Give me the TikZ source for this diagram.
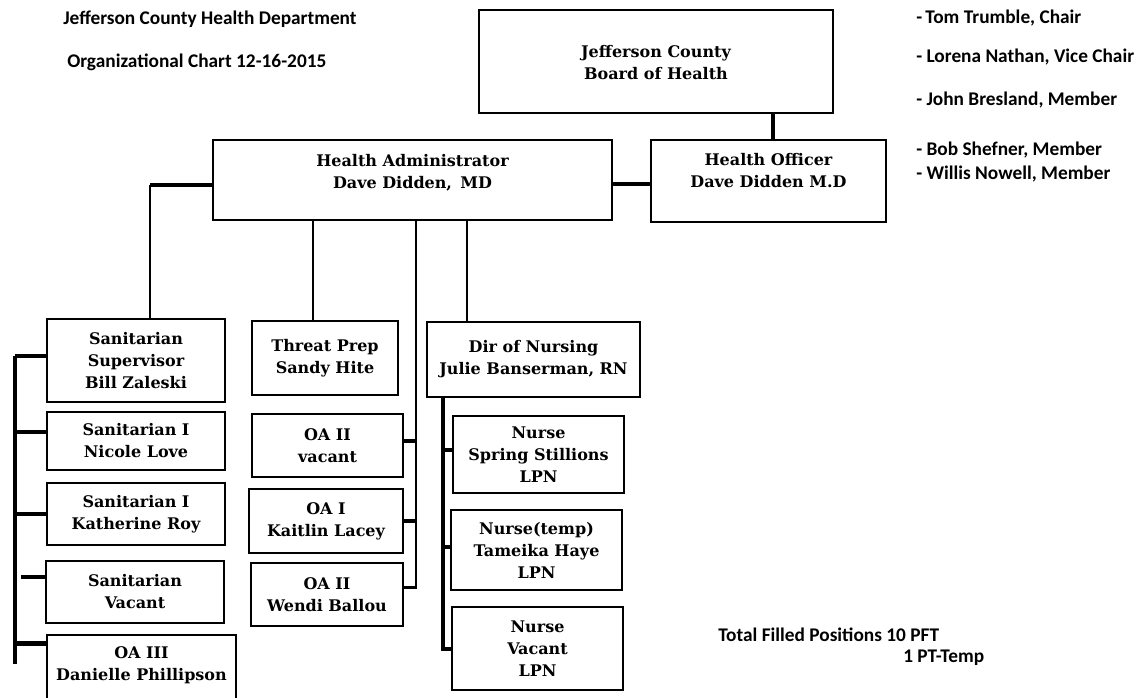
\documentclass[tikz,border=0pt]{standalone}
\usepackage{fontspec}
\setmainfont{DejaVu Serif}
\newfontfamily\calfont{Carlito}
\usetikzlibrary{positioning}

\newcommand{\boxfont}{\fontsize{12}{16.5}\selectfont\bfseries}
\newcommand{\notefont}{\calfont\bfseries\fontsize{14.5}{17}\selectfont}
\newcommand{\padtop}[1]{\mbox{}\\[#1]}
\newcommand{\padbot}[1]{\\[#1]\mbox{}}

\begin{document}
\begin{tikzpicture}[
  x=0.75pt, y=-0.75pt,
  box/.style={draw, line width=1.1pt, inner sep=0pt, align=center,
              font=\boxfont},
  sz/.style 2 args={minimum width=#1*0.75pt, minimum height=#2*0.75pt},
  note/.style={inner sep=0pt, font=\notefont, anchor=west},
  link/.style={line width=2.2pt},
  bus/.style={line width=3pt},
  bar/.style={line width=3.6pt},
]

\useasboundingbox (0,0) rectangle (1139,697);

% ---- heading ----
\node[note] (dept)  at (63,19) {Jefferson County Health Department};
\node[note] (chart) at (67,62) {Organizational Chart 12-16-2015};

% ---- board members ----
\foreach \n/\yy/\who in {1/18/{-\,Tom Trumble, Chair},
                        2/57/{- Lorena Nathan, Vice Chair},
                        3/100/{- John Bresland, Member},
                        4/150/{- Bob Shefner, Member},
                        5/174/{- Willis Nowell, Member}}{
  \node[note] (m\n) at (916,\yy) {\who};
}

% ---- top level ----
\node[box, sz={354}{103}] (board) at (656,61.5)
     {\padtop{-6pt}Jefferson County\\Board of Health};
\node[box, sz={399}{80}] (admin) at (412.5,180)
     {Health Administrator\\Dave Didden,\, MD\padbot{-4pt}};
\node[box, sz={235}{82}] (officer) at (768.5,181)
     {Health Officer\\Dave Didden M.D\padbot{0pt}};

% ---- sanitarians ----
\node[box, sz={178}{83}] (super) at (136,360.5) {Sanitarian\\Supervisor\\Bill Zaleski};
\node[box, sz={178}{58}] (nicole) at (136,441) {Sanitarian I\\Nicole Love};
\node[box, sz={178}{62}] (kroy) at (136,514) {Sanitarian I\\Katherine Roy};
\node[box, sz={178}{62}] (svac) at (135,592) {Sanitarian\\Vacant};
\node[box, sz={189}{80}] (oa3) at (141.5,675) {OA III\\Danielle Phillipson\\\mbox{}};

% ---- threat prep and office ----
\node[box, sz={146}{74}] (threat) at (325,358) {Threat Prep\\Sandy Hite};
\node[box, sz={151}{63}] (oa2v) at (327.5,445.5) {OA II\\vacant};
\node[box, sz={154}{64}] (oa1) at (326,521) {OA I\\Kaitlin Lacey};
\node[box, sz={152}{63}] (oa2w) at (327,594.5) {OA II\\Wendi Ballou};

% ---- nursing ----
\node[box, sz={213}{75}] (nursing) at (533.5,359.5) {Dir of Nursing\\Julie Banserman, RN};
\node[box, sz={171}{77}] (spring) at (538.5,454.5) {Nurse\\Spring Stillions\\LPN};
\node[box, sz={171}{80}] (tameika) at (536.5,550) {Nurse(temp)\\Tameika Haye\\LPN};
\node[box, sz={171}{83}] (nvac) at (537.5,648.5) {Nurse\\Vacant\\LPN};

% ---- totals ----
\node[note] (tot)  at (718,635) {Total Filled Positions 10 PFT};
\node[note] (temp) at (903,658) {1 PT-Temp};

% ---- connector columns ----
\coordinate (sbus) at (15,0);
\coordinate (sdrop) at (150,0);
\coordinate (tdrop) at (313,0);
\coordinate (obus) at (416,0);
\coordinate (nbus) at (443,0);
\coordinate (ndrop) at (467,0);
\coordinate (bdrop) at (773,0);

% board, administrator, officer
\draw[bus] (board.south -| bdrop) -- (officer.north -| bdrop);
\draw[bar] ([yshift=-3pt]admin.east) -- ([yshift=-3pt]admin.east -| officer.west);
\draw[bar] ([yshift=-3.75pt]admin.west) -- ([yshift=-3.75pt]admin.west -| sdrop);
\draw[link] ([yshift=-3.75pt]admin.west -| sdrop) -- (super.north -| sdrop);
\draw[link] (admin.south -| tdrop) -- (threat.north -| tdrop);
\draw[link] (admin.south -| ndrop) -- (nursing.north -| ndrop);

% sanitarian bus
\draw[bus] ([yshift=3.4pt]super.west -| sbus) -- ([yshift=-22.5pt]oa3.north -| sbus);
\draw[bar] ([yshift=3.4pt]super.west) -- ([yshift=3.4pt]super.west -| sbus);
\draw[bar] ([yshift=6.75pt]nicole.west) -- ([yshift=6.75pt]nicole.west -| sbus);
\draw[bar] (kroy.west) -- (kroy.west -| sbus);
\draw[bar] ([yshift=11.25pt]svac.west) -- ([xshift=-18pt,yshift=11.25pt]svac.west);
\draw[bar] ([yshift=-6.75pt]oa3.north west) -- ([yshift=-6.75pt]oa3.north west -| sbus);

% office bus
\draw[link] (admin.south -| obus) |- ([yshift=5.6pt]oa2w.east);
\draw[bar] ([yshift=3.4pt]oa2v.east) -- ([yshift=3.4pt]oa2v.east -| obus);
\draw[bar] (oa1.east) -- (oa1.east -| obus);

% nursing bus
\draw[bus] (nursing.south -| nbus) |- (nvac.west);
\draw[bar] ([yshift=3.4pt]spring.west) -- ([yshift=3.4pt]spring.west -| nbus);
\draw[bar] ([yshift=2.25pt]tameika.west) -- ([yshift=2.25pt]tameika.west -| nbus);

\end{tikzpicture}
\end{document}
